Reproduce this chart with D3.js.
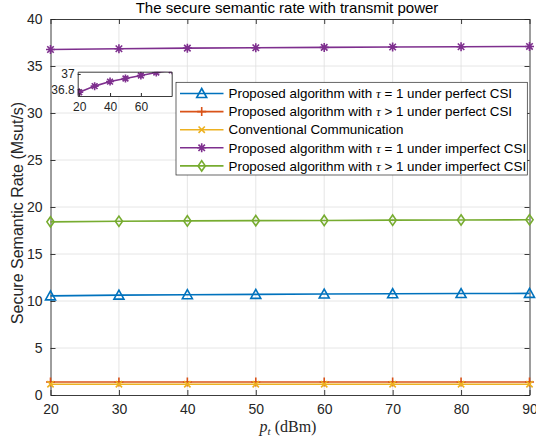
<!DOCTYPE html>
<html lang="en">
<head>
<meta charset="utf-8">
<title>Secure semantic rate</title>
<script src="https://d3js.org/d3.v7.min.js"></script>
<style>
  body { margin: 0; background: #fff; }
  svg { display: block; font-family: "Liberation Sans", Arial, sans-serif; }
</style>
</head>
<body>
<div id="chart"></div>
<script>
// data
var power = [20, 30, 40, 50, 60, 70, 80, 90];
var perfectTau1 = [10.55, 10.62, 10.67, 10.71, 10.74, 10.77, 10.79, 10.81];
var perfectTauGt1 = [1.38, 1.38, 1.38, 1.38, 1.38, 1.38, 1.38, 1.38];
var conventional = [1.15, 1.15, 1.15, 1.15, 1.15, 1.15, 1.15, 1.15];
var imperfectTau1 = [36.76, 36.84, 36.90, 36.94, 36.98, 37.02, 37.05, 37.08];
var imperfectTauGt1 = [18.42, 18.48, 18.52, 18.55, 18.57, 18.60, 18.62, 18.64];

var xTicks = [20, 30, 40, 50, 60, 70, 80, 90];
var yTicks = [0, 5, 10, 15, 20, 25, 30, 35, 40];
var insetXTicks = [20, 40, 60];
var insetYTicks = [36.8, 37];

var legendLabels = [
  ["Proposed algorithm with ", " = 1 under perfect CSI"],
  ["Proposed algorithm with ", " > 1 under perfect CSI"],
  ["Conventional Communication"],
  ["Proposed algorithm with ", " = 1 under imperfect CSI"],
  ["Proposed algorithm with ", " > 1 under imperfect CSI"]
];

var series = [
  { values: perfectTau1, color: "#0072BD", marker: "triangle" },
  { values: perfectTauGt1, color: "#D95319", marker: "plus" },
  { values: conventional, color: "#EDB120", marker: "cross" },
  { values: imperfectTau1, color: "#7E2F8E", marker: "star" },
  { values: imperfectTauGt1, color: "#77AC30", marker: "diamond" }
];

var W = 536, H = 444;
var margin = { top: 19, right: 6.5, bottom: 49, left: 50.5 };
var width = W - margin.left - margin.right,
    height = H - margin.top - margin.bottom;
var axisColor = "#262626", gridColor = "#dfdfdf";

var svg = d3.select("#chart").append("svg")
  .attr("width", W).attr("height", H);

var x = d3.scaleLinear().domain([20, 90]).range([margin.left, margin.left + width]);
var y = d3.scaleLinear().domain([0, 40]).range([margin.top + height, margin.top]);

// marker paths centred on 0,0
function markerPath(type, s) {
  var h = s / 2;
  if (type === "triangle") return "M0," + (-h) + "L" + h + "," + (h * 0.8) + "L" + (-h) + "," + (h * 0.8) + "Z";
  if (type === "diamond") return "M0," + (-h * 1.15) + "L" + (h * 0.8) + ",0L0," + (h * 1.15) + "L" + (-h * 0.8) + ",0Z";
  if (type === "plus") return "M0," + (-h) + "V" + h + "M" + (-h) + ",0H" + h;
  if (type === "cross") { var c = h * 0.7; return "M" + (-c) + "," + (-c) + "L" + c + "," + c + "M" + (-c) + "," + c + "L" + c + "," + (-c); }
  if (type === "star") { var d = h * 0.72; return "M0," + (-h) + "V" + h + "M" + (-h) + ",0H" + h +
    "M" + (-d) + "," + (-d) + "L" + d + "," + d + "M" + (-d) + "," + d + "L" + d + "," + (-d); }
}
var markerSize = { triangle: 10, diamond: 9, plus: 9, cross: 9, star: 9 };

// grid
svg.append("g").selectAll("line").data(xTicks.slice(1, -1)).join("line")
  .attr("x1", d => x(d)).attr("x2", d => x(d))
  .attr("y1", margin.top).attr("y2", margin.top + height)
  .attr("stroke", gridColor).attr("stroke-width", 0.8);
svg.append("g").selectAll("line").data(yTicks.slice(1, -1)).join("line")
  .attr("y1", d => y(d)).attr("y2", d => y(d))
  .attr("x1", margin.left).attr("x2", margin.left + width)
  .attr("stroke", gridColor).attr("stroke-width", 0.8);

// axes (ticks point inward, box all round)
var tl = 5;
var axB = svg.append("g").attr("transform", "translate(0," + (margin.top + height) + ")")
  .call(d3.axisBottom(x).tickValues(xTicks).tickSizeInner(-tl).tickSizeOuter(0).tickPadding(9));
var axL = svg.append("g").attr("transform", "translate(" + margin.left + ",0)")
  .call(d3.axisLeft(y).tickValues(yTicks).tickSizeInner(-tl).tickSizeOuter(0).tickPadding(8));
var axT = svg.append("g").attr("transform", "translate(0," + margin.top + ")")
  .call(d3.axisTop(x).tickValues(xTicks).tickSizeInner(-tl).tickSizeOuter(0).tickFormat(""));
var axR = svg.append("g").attr("transform", "translate(" + (margin.left + width) + ",0)")
  .call(d3.axisRight(y).tickValues(yTicks).tickSizeInner(-tl).tickSizeOuter(0).tickFormat(""));
[axB, axL, axT, axR].forEach(function (g) {
  g.select(".domain").attr("stroke", axisColor).attr("stroke-width", 0.9);
  g.selectAll(".tick line").attr("stroke", axisColor).attr("stroke-width", 0.9);
  g.selectAll(".tick text").attr("fill", axisColor).style("font-size", "14px")
    .style("font-family", "'Liberation Sans', Arial, sans-serif");
});

// lines and markers
var line = d3.line().x((d, i) => x(power[i])).y(d => y(d));
series.forEach(function (s) {
  svg.append("path").datum(s.values).attr("d", line)
    .attr("fill", "none").attr("stroke", s.color).attr("stroke-width", 1.6);
  svg.append("g").selectAll("path").data(s.values).join("path")
    .attr("transform", (d, i) => "translate(" + x(power[i]) + "," + y(d) + ")")
    .attr("d", markerPath(s.marker, markerSize[s.marker]))
    .attr("fill", "none").attr("stroke", s.color).attr("stroke-width", 1.6);
});

// inset (zoom on the imperfect CSI, tau = 1 curve)
var ix = d3.scaleLinear().domain([19, 80]).range([77.7, 171.7]);
var iy = d3.scaleLinear().domain([36.71, 37.03]).range([96, 71.7]);
var inset = svg.append("g");
inset.append("rect").attr("x", 77.7).attr("y", 71.7).attr("width", 94).attr("height", 24.3)
  .attr("fill", "#fff");
inset.append("clipPath").attr("id", "insetClip").append("rect")
  .attr("x", 77.7).attr("y", 71.7).attr("width", 94).attr("height", 24.3);
var insetPlot = inset.append("g").attr("clip-path", "url(#insetClip)");
var iline = d3.line().x((d, i) => ix(power[i])).y(d => iy(d));
insetPlot.append("path").datum(imperfectTau1).attr("d", iline)
  .attr("fill", "none").attr("stroke", "#7E2F8E").attr("stroke-width", 1.6);
insetPlot.append("g").selectAll("path").data(imperfectTau1).join("path")
  .attr("transform", (d, i) => "translate(" + ix(power[i]) + "," + iy(d) + ")")
  .attr("d", markerPath("star", 8))
  .attr("fill", "none").attr("stroke", "#7E2F8E").attr("stroke-width", 1.6);
var iaB = inset.append("g").attr("transform", "translate(0,96)")
  .call(d3.axisBottom(ix).tickValues(insetXTicks).tickSizeInner(-3).tickSizeOuter(0).tickPadding(6));
var iaL = inset.append("g").attr("transform", "translate(77.7,0)")
  .call(d3.axisLeft(iy).tickValues(insetYTicks).tickSizeInner(-3).tickSizeOuter(0).tickPadding(3)
    .tickFormat(d => d === 37 ? "37" : "36.8"));
var iaT = inset.append("g").attr("transform", "translate(0,71.7)")
  .call(d3.axisTop(ix).tickValues([]).tickSizeOuter(0));
var iaR = inset.append("g").attr("transform", "translate(171.7,0)")
  .call(d3.axisRight(iy).tickValues([]).tickSizeOuter(0));
[iaB, iaL, iaT, iaR].forEach(function (g) {
  g.select(".domain").attr("stroke", axisColor).attr("stroke-width", 0.9);
  g.selectAll(".tick line").attr("stroke", axisColor);
  g.selectAll(".tick text").attr("fill", axisColor).style("font-size", "12px")
    .style("font-family", "'Liberation Sans', Arial, sans-serif");
});

// legend
var lg = svg.append("g");
lg.append("rect").attr("x", 176).attr("y", 82.3).attr("width", 351.3).attr("height", 92.7)
  .attr("fill", "#fff").attr("stroke", axisColor).attr("stroke-width", 0.7);
series.forEach(function (s, i) {
  var yy = 93.5 + i * 18.1;
  lg.append("line").attr("x1", 180).attr("x2", 223.5).attr("y1", yy).attr("y2", yy)
    .attr("stroke", s.color).attr("stroke-width", 1.6);
  lg.append("path").attr("transform", "translate(201.7," + yy + ")")
    .attr("d", markerPath(s.marker, markerSize[s.marker]))
    .attr("fill", "none").attr("stroke", s.color).attr("stroke-width", 1.6);
  var t = lg.append("text").attr("x", 228.5).attr("y", yy + 4.7)
    .attr("fill", "#000").style("font-size", "13.4px");
  var parts = legendLabels[i];
  t.append("tspan").text(parts[0]);
  if (parts.length > 1) {
    t.append("tspan").text("\u03C4").style("font-style", "italic")
      .style("font-family", "'Liberation Serif', 'DejaVu Serif', serif");
    t.append("tspan").text(parts[1]);
  }
});

// title and axis labels
svg.append("text").attr("x", 287).attr("y", 13).attr("text-anchor", "middle")
  .attr("fill", "#000").style("font-size", "15px")
  .text("The secure semantic rate with transmit power");

var xl = svg.append("text").attr("x", 288).attr("y", 432).attr("text-anchor", "middle")
  .attr("fill", axisColor).style("font-family", "'Liberation Serif', 'DejaVu Serif', serif")
  .style("font-size", "16px");
xl.append("tspan").text("p").style("font-style", "italic");
xl.append("tspan").text("t").style("font-style", "italic").style("font-size", "11px").attr("dy", 3);
xl.append("tspan").text(" (dBm)").attr("dy", -3);

svg.append("text").attr("transform", "translate(23,213) rotate(-90)").attr("text-anchor", "middle")
  .attr("fill", axisColor).style("font-size", "16px")
  .text("Secure Semantic Rate (Msut/s)");
</script>
</body>
</html>
